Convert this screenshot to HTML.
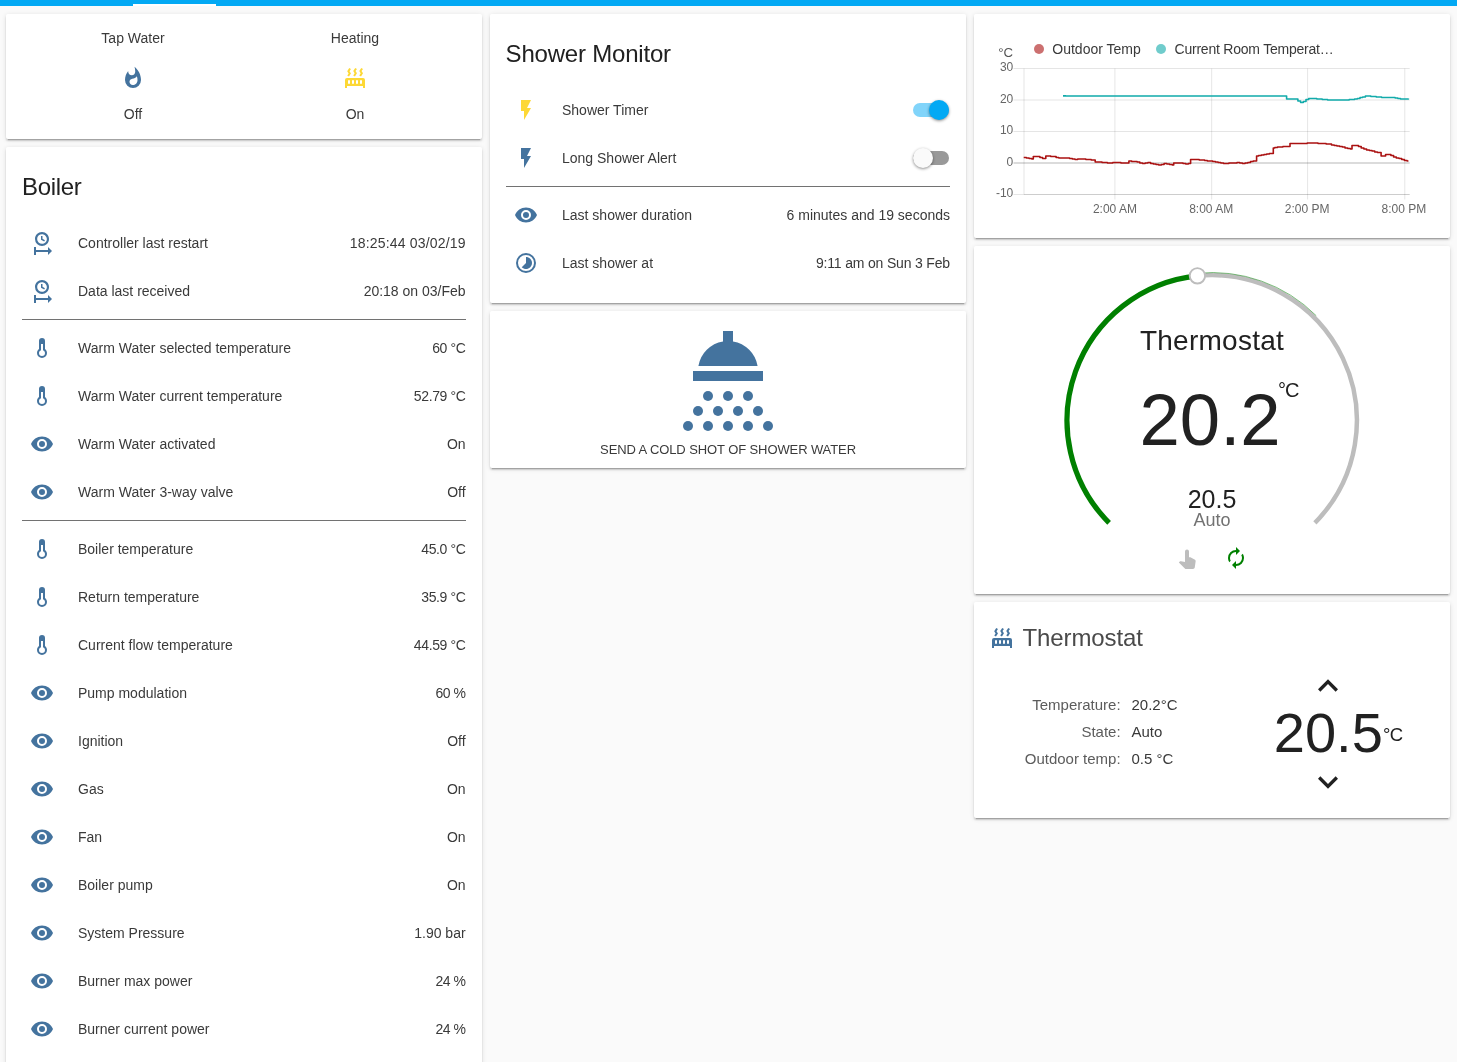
<!DOCTYPE html>
<html lang="en"><head><meta charset="utf-8"><title>Home Assistant</title>
<style>
html,body{margin:0;padding:0}
body{width:1457px;height:1062px;overflow:hidden;background:#fafafa;position:relative;font-family:"Liberation Sans",sans-serif;color:#212121;-webkit-font-smoothing:antialiased}
#bar{position:absolute;left:0;top:0;width:1457px;height:6px;background:#03a9f4}
#tab{position:absolute;left:133px;top:4px;width:83px;height:2px;background:#fff}
.card{position:absolute;background:#fff;border-radius:2px;box-shadow:0 2px 2px 0 rgba(0,0,0,.14),0 1px 5px 0 rgba(0,0,0,.12),0 3px 1px -2px rgba(0,0,0,.2)}
.ic{position:absolute;display:block}
.tx{position:absolute;white-space:nowrap}
.t14{font-size:14px;line-height:20px;color:#3a3a3a}
.t24{font-size:24px;line-height:40px}
.div{position:absolute;height:1px;background:#727272}
.abs{position:absolute}
#root{position:absolute;left:0;top:0;width:1457px;height:1062px;will-change:transform}
</style></head><body>
<div id="root">
<div id="bar"></div><div id="tab"></div>

<div class="card" style="left:6px;top:14px;width:476px;height:125px"></div>
<div class="tx t14" style="left:-167px;width:600px;text-align:center;top:28px;">Tap Water</div>
<div class="tx t14" style="left:55px;width:600px;text-align:center;top:28px;">Heating</div>
<svg class="ic" style="left:121px;top:66px;width:24px;height:24px" viewBox="0 0 24 24"><path fill="#44739e" d="M11.71,19C9.93,19 8.5,17.59 8.5,15.86C8.5,14.24 9.53,13.1 11.3,12.74C13.07,12.38 14.9,11.53 15.92,10.16C16.31,11.45 16.5,12.81 16.5,14.2C16.5,16.84 14.36,19 11.71,19M13.5,0.67C13.5,0.67 14.24,3.32 14.24,5.47C14.24,7.53 12.89,9.2 10.83,9.2C8.76,9.2 7.2,7.53 7.2,5.47L7.23,5.1C5.21,7.5 4,10.61 4,14A8,8 0 0,0 12,22A8,8 0 0,0 20,14C20,8.6 17.41,3.8 13.5,0.67Z"/></svg>
<svg class="ic" style="left:343px;top:66px;width:24px;height:24px" viewBox="0 0 24 24"><path fill="#fdd835" d="M7.95,3L6.53,5.19L7.95,7.4H7.94L5.95,10.5L4.22,9.6L5.64,7.39L4.22,5.19L6.22,2.09L7.95,3M13.95,2.89L12.53,5.1L13.95,7.3L13.94,7.31L11.95,10.4L10.22,9.5L11.64,7.3L10.22,5.1L12.22,2L13.95,2.89M20,2.89L18.56,5.1L20,7.3V7.31L18,10.4L16.25,9.5L17.67,7.3L16.25,5.1L18.25,2L20,2.89M2,22V14A2,2 0 0,1 4,12H20A2,2 0 0,1 22,14V22H20V20H4V22H2M6,14A1,1 0 0,0 5,15V17A1,1 0 0,0 6,18A1,1 0 0,0 7,17V15A1,1 0 0,0 6,14M10,14A1,1 0 0,0 9,15V17A1,1 0 0,0 10,18A1,1 0 0,0 11,17V15A1,1 0 0,0 10,14M14,14A1,1 0 0,0 13,15V17A1,1 0 0,0 14,18A1,1 0 0,0 15,17V15A1,1 0 0,0 14,14M18,14A1,1 0 0,0 17,15V17A1,1 0 0,0 18,18A1,1 0 0,0 19,17V15A1,1 0 0,0 18,14Z"/></svg>
<div class="tx t14" style="left:-167px;width:600px;text-align:center;top:104px;">Off</div>
<div class="tx t14" style="left:55px;width:600px;text-align:center;top:104px;">On</div>
<div class="card" style="left:6px;top:147px;width:476px;height:940px"></div>
<div class="tx t24" style="left:22px;top:167px;letter-spacing:-0.3px">Boiler</div>
<svg class="ic" style="left:30px;top:231px;width:24px;height:24px" viewBox="0 0 24 24"><path fill="#44739e" d="M12,1C8.14,1 5,4.14 5,8A7,7 0 0,0 12,15C15.86,15 19,11.87 19,8C19,4.14 15.86,1 12,1M12,3.15C14.67,3.15 16.85,5.32 16.85,8C16.85,10.68 14.67,12.85 12,12.85A4.85,4.85 0 0,1 7.15,8A4.85,4.85 0 0,1 12,3.15M11,5V8.69L14.19,10.53L14.94,9.23L12.5,7.82V5M4,16V24H6V21H18V24L22,20L18,16V19H6V16"/></svg>
<div class="tx t14" style="left:78px;top:233px;">Controller last restart</div>
<div class="tx t14" style="right:991.4px;top:233px;letter-spacing:0.17px">18:25:44 03/02/19</div>
<svg class="ic" style="left:30px;top:279px;width:24px;height:24px" viewBox="0 0 24 24"><path fill="#44739e" d="M12,1C8.14,1 5,4.14 5,8A7,7 0 0,0 12,15C15.86,15 19,11.87 19,8C19,4.14 15.86,1 12,1M12,3.15C14.67,3.15 16.85,5.32 16.85,8C16.85,10.68 14.67,12.85 12,12.85A4.85,4.85 0 0,1 7.15,8A4.85,4.85 0 0,1 12,3.15M11,5V8.69L14.19,10.53L14.94,9.23L12.5,7.82V5M4,16V24H6V21H18V24L22,20L18,16V19H6V16"/></svg>
<div class="tx t14" style="left:78px;top:281px;">Data last received</div>
<div class="tx t14" style="right:991.4px;top:281px;">20:18 on 03/Feb</div>
<svg class="ic" style="left:30px;top:336px;width:24px;height:24px" viewBox="0 0 24 24"><path fill="#44739e" d="M17,17A5,5 0 0,1 12,22A5,5 0 0,1 7,17C7,15.36 7.79,13.91 9,13V5A3,3 0 0,1 12,2A3,3 0 0,1 15,5V13C16.21,13.91 17,15.36 17,17M11,8V14.17C9.83,14.58 9,15.69 9,17A3,3 0 0,0 12,20A3,3 0 0,0 15,17C15,15.69 14.17,14.58 13,14.17V8H11Z"/></svg>
<div class="tx t14" style="left:78px;top:338px;">Warm Water selected temperature</div>
<div class="tx t14" style="right:991.4px;top:338px;letter-spacing:-0.35px">60 °C</div>
<svg class="ic" style="left:30px;top:384px;width:24px;height:24px" viewBox="0 0 24 24"><path fill="#44739e" d="M17,17A5,5 0 0,1 12,22A5,5 0 0,1 7,17C7,15.36 7.79,13.91 9,13V5A3,3 0 0,1 12,2A3,3 0 0,1 15,5V13C16.21,13.91 17,15.36 17,17M11,8V14.17C9.83,14.58 9,15.69 9,17A3,3 0 0,0 12,20A3,3 0 0,0 15,17C15,15.69 14.17,14.58 13,14.17V8H11Z"/></svg>
<div class="tx t14" style="left:78px;top:386px;">Warm Water current temperature</div>
<div class="tx t14" style="right:991.4px;top:386px;letter-spacing:-0.35px">52.79 °C</div>
<svg class="ic" style="left:30px;top:432px;width:24px;height:24px" viewBox="0 0 24 24"><path fill="#44739e" d="M12,9A3,3 0 0,0 9,12A3,3 0 0,0 12,15A3,3 0 0,0 15,12A3,3 0 0,0 12,9M12,17A5,5 0 0,1 7,12A5,5 0 0,1 12,7A5,5 0 0,1 17,12A5,5 0 0,1 12,17M12,4.5C7,4.5 2.73,7.61 1,12C2.73,16.39 7,19.5 12,19.5C17,19.5 21.27,16.39 23,12C21.27,7.61 17,4.5 12,4.5Z"/></svg>
<div class="tx t14" style="left:78px;top:434px;">Warm Water activated</div>
<div class="tx t14" style="right:991.4px;top:434px;">On</div>
<svg class="ic" style="left:30px;top:480px;width:24px;height:24px" viewBox="0 0 24 24"><path fill="#44739e" d="M12,9A3,3 0 0,0 9,12A3,3 0 0,0 12,15A3,3 0 0,0 15,12A3,3 0 0,0 12,9M12,17A5,5 0 0,1 7,12A5,5 0 0,1 12,7A5,5 0 0,1 17,12A5,5 0 0,1 12,17M12,4.5C7,4.5 2.73,7.61 1,12C2.73,16.39 7,19.5 12,19.5C17,19.5 21.27,16.39 23,12C21.27,7.61 17,4.5 12,4.5Z"/></svg>
<div class="tx t14" style="left:78px;top:482px;">Warm Water 3-way valve</div>
<div class="tx t14" style="right:991.4px;top:482px;">Off</div>
<svg class="ic" style="left:30px;top:537px;width:24px;height:24px" viewBox="0 0 24 24"><path fill="#44739e" d="M17,17A5,5 0 0,1 12,22A5,5 0 0,1 7,17C7,15.36 7.79,13.91 9,13V5A3,3 0 0,1 12,2A3,3 0 0,1 15,5V13C16.21,13.91 17,15.36 17,17M11,8V14.17C9.83,14.58 9,15.69 9,17A3,3 0 0,0 12,20A3,3 0 0,0 15,17C15,15.69 14.17,14.58 13,14.17V8H11Z"/></svg>
<div class="tx t14" style="left:78px;top:539px;">Boiler temperature</div>
<div class="tx t14" style="right:991.4px;top:539px;letter-spacing:-0.35px">45.0 °C</div>
<svg class="ic" style="left:30px;top:585px;width:24px;height:24px" viewBox="0 0 24 24"><path fill="#44739e" d="M17,17A5,5 0 0,1 12,22A5,5 0 0,1 7,17C7,15.36 7.79,13.91 9,13V5A3,3 0 0,1 12,2A3,3 0 0,1 15,5V13C16.21,13.91 17,15.36 17,17M11,8V14.17C9.83,14.58 9,15.69 9,17A3,3 0 0,0 12,20A3,3 0 0,0 15,17C15,15.69 14.17,14.58 13,14.17V8H11Z"/></svg>
<div class="tx t14" style="left:78px;top:587px;">Return temperature</div>
<div class="tx t14" style="right:991.4px;top:587px;letter-spacing:-0.35px">35.9 °C</div>
<svg class="ic" style="left:30px;top:633px;width:24px;height:24px" viewBox="0 0 24 24"><path fill="#44739e" d="M17,17A5,5 0 0,1 12,22A5,5 0 0,1 7,17C7,15.36 7.79,13.91 9,13V5A3,3 0 0,1 12,2A3,3 0 0,1 15,5V13C16.21,13.91 17,15.36 17,17M11,8V14.17C9.83,14.58 9,15.69 9,17A3,3 0 0,0 12,20A3,3 0 0,0 15,17C15,15.69 14.17,14.58 13,14.17V8H11Z"/></svg>
<div class="tx t14" style="left:78px;top:635px;">Current flow temperature</div>
<div class="tx t14" style="right:991.4px;top:635px;letter-spacing:-0.35px">44.59 °C</div>
<svg class="ic" style="left:30px;top:681px;width:24px;height:24px" viewBox="0 0 24 24"><path fill="#44739e" d="M12,9A3,3 0 0,0 9,12A3,3 0 0,0 12,15A3,3 0 0,0 15,12A3,3 0 0,0 12,9M12,17A5,5 0 0,1 7,12A5,5 0 0,1 12,7A5,5 0 0,1 17,12A5,5 0 0,1 12,17M12,4.5C7,4.5 2.73,7.61 1,12C2.73,16.39 7,19.5 12,19.5C17,19.5 21.27,16.39 23,12C21.27,7.61 17,4.5 12,4.5Z"/></svg>
<div class="tx t14" style="left:78px;top:683px;">Pump modulation</div>
<div class="tx t14" style="right:991.4px;top:683px;letter-spacing:-0.45px">60 %</div>
<svg class="ic" style="left:30px;top:729px;width:24px;height:24px" viewBox="0 0 24 24"><path fill="#44739e" d="M12,9A3,3 0 0,0 9,12A3,3 0 0,0 12,15A3,3 0 0,0 15,12A3,3 0 0,0 12,9M12,17A5,5 0 0,1 7,12A5,5 0 0,1 12,7A5,5 0 0,1 17,12A5,5 0 0,1 12,17M12,4.5C7,4.5 2.73,7.61 1,12C2.73,16.39 7,19.5 12,19.5C17,19.5 21.27,16.39 23,12C21.27,7.61 17,4.5 12,4.5Z"/></svg>
<div class="tx t14" style="left:78px;top:731px;">Ignition</div>
<div class="tx t14" style="right:991.4px;top:731px;">Off</div>
<svg class="ic" style="left:30px;top:777px;width:24px;height:24px" viewBox="0 0 24 24"><path fill="#44739e" d="M12,9A3,3 0 0,0 9,12A3,3 0 0,0 12,15A3,3 0 0,0 15,12A3,3 0 0,0 12,9M12,17A5,5 0 0,1 7,12A5,5 0 0,1 12,7A5,5 0 0,1 17,12A5,5 0 0,1 12,17M12,4.5C7,4.5 2.73,7.61 1,12C2.73,16.39 7,19.5 12,19.5C17,19.5 21.27,16.39 23,12C21.27,7.61 17,4.5 12,4.5Z"/></svg>
<div class="tx t14" style="left:78px;top:779px;">Gas</div>
<div class="tx t14" style="right:991.4px;top:779px;">On</div>
<svg class="ic" style="left:30px;top:825px;width:24px;height:24px" viewBox="0 0 24 24"><path fill="#44739e" d="M12,9A3,3 0 0,0 9,12A3,3 0 0,0 12,15A3,3 0 0,0 15,12A3,3 0 0,0 12,9M12,17A5,5 0 0,1 7,12A5,5 0 0,1 12,7A5,5 0 0,1 17,12A5,5 0 0,1 12,17M12,4.5C7,4.5 2.73,7.61 1,12C2.73,16.39 7,19.5 12,19.5C17,19.5 21.27,16.39 23,12C21.27,7.61 17,4.5 12,4.5Z"/></svg>
<div class="tx t14" style="left:78px;top:827px;">Fan</div>
<div class="tx t14" style="right:991.4px;top:827px;">On</div>
<svg class="ic" style="left:30px;top:873px;width:24px;height:24px" viewBox="0 0 24 24"><path fill="#44739e" d="M12,9A3,3 0 0,0 9,12A3,3 0 0,0 12,15A3,3 0 0,0 15,12A3,3 0 0,0 12,9M12,17A5,5 0 0,1 7,12A5,5 0 0,1 12,7A5,5 0 0,1 17,12A5,5 0 0,1 12,17M12,4.5C7,4.5 2.73,7.61 1,12C2.73,16.39 7,19.5 12,19.5C17,19.5 21.27,16.39 23,12C21.27,7.61 17,4.5 12,4.5Z"/></svg>
<div class="tx t14" style="left:78px;top:875px;">Boiler pump</div>
<div class="tx t14" style="right:991.4px;top:875px;">On</div>
<svg class="ic" style="left:30px;top:921px;width:24px;height:24px" viewBox="0 0 24 24"><path fill="#44739e" d="M12,9A3,3 0 0,0 9,12A3,3 0 0,0 12,15A3,3 0 0,0 15,12A3,3 0 0,0 12,9M12,17A5,5 0 0,1 7,12A5,5 0 0,1 12,7A5,5 0 0,1 17,12A5,5 0 0,1 12,17M12,4.5C7,4.5 2.73,7.61 1,12C2.73,16.39 7,19.5 12,19.5C17,19.5 21.27,16.39 23,12C21.27,7.61 17,4.5 12,4.5Z"/></svg>
<div class="tx t14" style="left:78px;top:923px;">System Pressure</div>
<div class="tx t14" style="right:991.4px;top:923px;">1.90 bar</div>
<svg class="ic" style="left:30px;top:969px;width:24px;height:24px" viewBox="0 0 24 24"><path fill="#44739e" d="M12,9A3,3 0 0,0 9,12A3,3 0 0,0 12,15A3,3 0 0,0 15,12A3,3 0 0,0 12,9M12,17A5,5 0 0,1 7,12A5,5 0 0,1 12,7A5,5 0 0,1 17,12A5,5 0 0,1 12,17M12,4.5C7,4.5 2.73,7.61 1,12C2.73,16.39 7,19.5 12,19.5C17,19.5 21.27,16.39 23,12C21.27,7.61 17,4.5 12,4.5Z"/></svg>
<div class="tx t14" style="left:78px;top:971px;">Burner max power</div>
<div class="tx t14" style="right:991.4px;top:971px;letter-spacing:-0.45px">24 %</div>
<svg class="ic" style="left:30px;top:1017px;width:24px;height:24px" viewBox="0 0 24 24"><path fill="#44739e" d="M12,9A3,3 0 0,0 9,12A3,3 0 0,0 12,15A3,3 0 0,0 15,12A3,3 0 0,0 12,9M12,17A5,5 0 0,1 7,12A5,5 0 0,1 12,7A5,5 0 0,1 17,12A5,5 0 0,1 12,17M12,4.5C7,4.5 2.73,7.61 1,12C2.73,16.39 7,19.5 12,19.5C17,19.5 21.27,16.39 23,12C21.27,7.61 17,4.5 12,4.5Z"/></svg>
<div class="tx t14" style="left:78px;top:1019px;">Burner current power</div>
<div class="tx t14" style="right:991.4px;top:1019px;letter-spacing:-0.45px">24 %</div>
<div class="div" style="left:22px;top:319px;width:444px"></div>
<div class="div" style="left:22px;top:520px;width:444px"></div>
<div class="card" style="left:490px;top:14px;width:476px;height:289px"></div>
<div class="tx t24" style="left:505.6px;top:34px;letter-spacing:-0.2px">Shower Monitor</div>
<svg class="ic" style="left:514px;top:98px;width:24px;height:24px" viewBox="0 0 24 24"><path fill="#fdd835" d="M7,2V13H10V22L17,10H13L17,2H7Z"/></svg>
<div class="tx t14" style="left:562px;top:100px;">Shower Timer</div>
<svg class="ic" style="left:514px;top:146px;width:24px;height:24px" viewBox="0 0 24 24"><path fill="#44739e" d="M7,2V13H10V22L17,10H13L17,2H7Z"/></svg>
<div class="tx t14" style="left:562px;top:148px;">Long Shower Alert</div>
<div class="abs" style="left:913px;top:103px;width:36px;height:14px;border-radius:7px;background:#81d4fa"></div>
<div class="abs" style="left:929px;top:100px;width:20px;height:20px;border-radius:50%;background:#03a9f4;box-shadow:0 1px 3px 0 rgba(0,0,0,.45)"></div>
<div class="abs" style="left:913px;top:151px;width:36px;height:14px;border-radius:7px;background:#999"></div>
<div class="abs" style="left:913px;top:148px;width:20px;height:20px;border-radius:50%;background:#fafafa;box-shadow:0 1px 3px 0 rgba(0,0,0,.45)"></div>
<div class="div" style="left:506px;top:186px;width:444px"></div>
<svg class="ic" style="left:514px;top:203px;width:24px;height:24px" viewBox="0 0 24 24"><path fill="#44739e" d="M12,9A3,3 0 0,0 9,12A3,3 0 0,0 12,15A3,3 0 0,0 15,12A3,3 0 0,0 12,9M12,17A5,5 0 0,1 7,12A5,5 0 0,1 12,7A5,5 0 0,1 17,12A5,5 0 0,1 12,17M12,4.5C7,4.5 2.73,7.61 1,12C2.73,16.39 7,19.5 12,19.5C17,19.5 21.27,16.39 23,12C21.27,7.61 17,4.5 12,4.5Z"/></svg>
<div class="tx t14" style="left:562px;top:205px;">Last shower duration</div>
<div class="tx t14" style="right:507px;top:205px;">6 minutes and 19 seconds</div>
<svg class="ic" style="left:514px;top:251px;width:24px;height:24px" viewBox="0 0 24 24"><path fill="#44739e" d="M16.24,7.76C15.07,6.58 13.53,6 12,6V12L7.76,16.24C10.1,18.58 13.9,18.58 16.24,16.24C18.59,13.9 18.59,10.1 16.24,7.76M12,2A10,10 0 0,0 2,12A10,10 0 0,0 12,22A10,10 0 0,0 22,12A10,10 0 0,0 12,2M12,20A8,8 0 0,1 4,12A8,8 0 0,1 12,4A8,8 0 0,1 20,12A8,8 0 0,1 12,20Z"/></svg>
<div class="tx t14" style="left:562px;top:253px;">Last shower at</div>
<div class="tx t14" style="right:507px;top:253px;letter-spacing:-0.17px">9:11 am on Sun 3 Feb</div>
<div class="card" style="left:490px;top:311px;width:476px;height:157px"></div>
<svg class="ic" style="left:668px;top:320.8px;width:120px;height:120px" viewBox="0 0 24 24"><g fill="#44739e">
<path d="M11,2H13V4.1A6,6 0 0,1 17.92,9H6.08A6,6 0 0,1 11,4.1Z"/><rect x="5" y="10" width="14" height="2"/>
<circle cx="8" cy="15" r="1"/><circle cx="12" cy="15" r="1"/><circle cx="16" cy="15" r="1"/>
<circle cx="6" cy="18" r="1"/><circle cx="10" cy="18" r="1"/><circle cx="14" cy="18" r="1"/><circle cx="18" cy="18" r="1"/>
<circle cx="4" cy="21" r="1"/><circle cx="8" cy="21" r="1"/><circle cx="12" cy="21" r="1"/><circle cx="16" cy="21" r="1"/><circle cx="20" cy="21" r="1"/>
</g></svg>
<div class="tx t14" style="left:428px;width:600px;text-align:center;top:440px;font-size:13px;letter-spacing:-0.1px">SEND A COLD SHOT OF SHOWER WATER</div>
<div class="card" style="left:974px;top:14px;width:476px;height:224px"></div>
<svg class="ic" style="left:974px;top:14px;width:476px;height:224px" viewBox="974 14 476 224">
<g stroke="#000" stroke-opacity="0.1" stroke-width="1" fill="none">
<path d="M1013.5,68.5H1409.7"/>
<path d="M1013.5,100H1409.7"/>
<path d="M1013.5,131.5H1409.7"/>
<path d="M1013.5,194.5H1409.7"/>
<path d="M1024,68.5V194.5"/>
<path d="M1114.9,68.5V199.5"/>
<path d="M1211.7,68.5V199.5"/>
<path d="M1307.6,68.5V199.5"/>
<path d="M1404.8,68.5V199.5"/>
<path d="M1024,194.5H1409.7"/>
</g>
<path d="M1013.5,163H1409.7" stroke="#000" stroke-opacity="0.14" stroke-width="1.8" fill="none"/>
<path d="M1063.0,95.9H1065.7V96.0H1068.4V96.0H1071.1V96.0H1073.8V96.0H1076.5V96.0H1079.2V96.0H1081.9V96.0H1084.6V96.0H1087.3V96.0H1090.0V96.0H1092.7V96.0H1095.4V96.0H1098.1V96.0H1100.8V96.0H1103.5V96.0H1106.2V96.0H1108.9V96.0H1111.6V96.0H1114.3V96.0H1117.0V96.0H1119.7V96.0H1122.4V96.0H1125.1V96.0H1127.8V96.0H1130.5V96.0H1133.2V96.0H1135.9V96.0H1138.6V96.0H1141.3V96.0H1144.0V96.0H1146.7V96.0H1149.4V96.0H1152.1V96.0H1154.8V96.0H1157.5V96.0H1160.2V96.0H1162.9V96.0H1165.6V96.0H1168.3V96.0H1171.0V96.0H1173.7V96.0H1176.4V96.0H1179.1V96.0H1181.8V96.0H1184.5V96.0H1187.2V96.0H1189.9V96.0H1192.6V96.0H1195.3V96.0H1198.0V96.0H1200.7V96.0H1203.4V96.0H1206.1V96.0H1208.8V96.0H1211.5V96.0H1214.2V96.0H1216.9V96.0H1219.6V96.0H1222.3V96.0H1225.0V96.0H1227.7V96.0H1230.4V96.0H1233.1V96.0H1235.8V96.0H1238.5V96.0H1241.2V96.0H1243.9V96.0H1246.6V96.0H1249.3V96.0H1252.0V96.0H1254.7V96.0H1257.4V96.0H1260.1V96.0H1262.8V96.0H1265.5V96.0H1268.2V96.0H1270.9V96.0H1273.6V96.0H1276.3V96.0H1279.0V96.0H1281.7V96.0H1284.4V96.0H1286.6V99.0H1289.8V99.0H1292.5V99.0H1295.2V99.0H1297.9V101.0H1300.6V102.5H1303.3V101.5H1306.0V99.5H1308.7V98.5H1311.4V98.5H1314.1V98.5H1316.8V99.0H1319.5V99.0H1322.2V99.5H1324.9V99.5H1327.6V100.0H1330.3V100.0H1333.0V100.0H1335.7V100.0H1338.4V100.0H1341.1V100.0H1343.8V100.0H1346.5V100.0H1349.2V99.5H1351.9V99.5H1354.6V99.0H1357.3V98.5H1360.0V97.5H1362.7V97.0H1365.4V96.0H1368.1V96.0H1370.8V96.5H1373.5V96.5H1376.2V97.0H1378.9V97.0H1381.6V97.5H1384.3V97.5H1387.0V97.5H1389.7V97.5H1392.4V97.5H1395.1V98.0H1397.8V98.5H1400.5V99.0H1403.2V99.0H1405.9V99.0H1408.4V98.5" stroke="#11aaaa" stroke-width="1.6" fill="none" stroke-linejoin="round"/>
<path d="M1023.7,157.5H1026.4V158.0H1029.1V158.5H1031.8V159.0H1033.3V156.5H1037.2V156.5H1039.9V157.5H1042.6V158.5H1045.8V156.0H1048.0V156.0H1050.7V156.5H1053.4V156.5H1056.1V157.5H1058.8V158.0H1061.5V158.0H1064.2V158.0H1066.9V158.0H1069.6V158.5H1072.3V159.0H1075.0V159.5H1077.7V159.0H1080.4V159.0H1083.1V159.0H1085.8V159.5H1088.5V159.5H1091.2V160.0H1095.2V162.0H1096.6V162.0H1099.3V162.0H1102.0V162.5H1104.7V162.5H1107.4V163.0H1110.1V163.0H1112.8V162.5H1115.5V162.5H1118.2V162.5H1120.9V163.0H1123.6V163.0H1126.3V163.0H1128.9V161.0H1131.7V161.5H1134.4V161.5H1137.1V162.0H1139.8V163.0H1142.5V163.5H1145.2V163.0H1147.9V162.5H1150.6V163.5H1153.3V164.0H1156.0V164.5H1158.7V165.0H1161.4V164.5H1164.1V163.5H1166.8V164.0H1169.5V164.5H1172.2V165.0H1173.7V163.0H1177.6V163.0H1180.3V163.0H1183.0V163.5H1185.7V164.0H1188.4V163.5H1190.6V159.5H1193.8V159.5H1196.5V159.5H1199.2V160.0H1201.9V160.0H1204.6V160.5H1207.3V161.0H1210.0V161.0H1212.7V161.5H1215.4V162.0H1218.1V162.5H1220.8V163.0H1223.5V163.5H1226.2V163.5H1228.9V163.0H1231.6V163.0H1234.3V163.0H1237.0V162.5H1239.7V163.0H1242.4V163.5H1245.1V163.0H1247.8V162.5H1250.5V161.5H1253.2V161.0H1256.6V156.0H1258.6V155.5H1261.3V155.0H1264.0V154.5H1266.7V154.0H1269.4V153.5H1273.3V148.0H1274.8V147.5H1277.5V147.0H1280.2V147.0H1282.9V146.5H1285.6V146.5H1288.3V146.5H1290.0V143.5H1293.7V143.5H1296.4V143.5H1299.1V143.5H1301.8V143.5H1304.5V143.5H1307.2V143.0H1309.9V143.0H1312.6V143.0H1315.3V143.0H1318.0V143.5H1320.7V143.5H1323.4V143.5H1326.1V144.0H1328.8V144.0H1331.5V145.0H1334.2V145.5H1336.9V146.0H1339.6V146.5H1342.3V147.0H1345.0V148.0H1347.7V148.5H1350.4V149.0H1352.0V145.5H1355.8V145.5H1358.5V146.5H1361.2V148.0H1363.9V149.0H1366.6V150.0H1369.3V150.5H1372.0V151.0H1374.7V152.0H1377.4V152.5H1381.1V156.0H1382.8V156.0H1385.6V154.5H1388.2V154.5H1390.9V155.5H1393.6V157.0H1396.3V158.0H1399.0V158.5H1401.7V159.5H1404.4V160.5H1407.1V161.0H1407.9V161.5" stroke="#aa1111" stroke-width="1.6" fill="none" stroke-linejoin="round"/>
<circle cx="1039" cy="49" r="5" fill="#cc7070"/><circle cx="1161" cy="49" r="5" fill="#70cccc"/>
<g font-family="Liberation Sans, sans-serif" font-size="12" fill="#666">
<text x="998.3" y="56.5" font-size="13.2" fill="#555">°C</text>
<text x="1013.3" y="71.1" text-anchor="end">30</text>
<text x="1013.3" y="102.6" text-anchor="end">20</text>
<text x="1013.3" y="134.1" text-anchor="end">10</text>
<text x="1013.3" y="165.6" text-anchor="end">0</text>
<text x="1013.3" y="197.1" text-anchor="end">-10</text>
<text x="1114.9" y="213" text-anchor="middle">2:00 AM</text>
<text x="1211.2" y="213" text-anchor="middle">8:00 AM</text>
<text x="1307.2" y="213" text-anchor="middle">2:00 PM</text>
<text x="1403.9" y="213" text-anchor="middle">8:00 PM</text>
</g></svg>
<div class="tx t14" style="left:1052.3px;top:39px">Outdoor Temp</div>
<div class="tx t14" style="left:1174.5px;top:39px;letter-spacing:-0.22px">Current Room Temperat…</div>
<div class="card" style="left:974px;top:246px;width:476px;height:348px"></div>
<svg class="ic" style="left:974px;top:246px;width:476px;height:348px" viewBox="974 246 476 348">
<path d="M1197.40,275.80A145.5,145.5 0 0,1 1314.88,522.88" stroke="#bdbdbd" stroke-width="4.5" fill="none"/>
<path d="M1109.12,522.88A145.5,145.5 0 0,1 1197.40,275.80" stroke="#008000" stroke-width="5.2" fill="none"/>
<path d="M1197.10,273.30A147.45,147.45 0 0,1 1316.26,315.74" stroke="#008000" stroke-opacity="0.9" stroke-width="0.55" fill="none"/>
<circle cx="1197.4" cy="275.8" r="7.7" fill="#fff" stroke="#bdbdbd" stroke-width="1.9"/>
</svg>
<div class="tx" style="left:912px;width:600px;text-align:center;top:320.5px;font-size:28px;line-height:40px;letter-spacing:0.25px" id="th-title">Thermostat</div>
<div class="tx" style="left:1139.5px;top:380px;font-size:72.5px;line-height:80px" id="th-big">20.2</div>
<div class="tx" style="left:1278px;top:376px;font-size:20px;line-height:28px;letter-spacing:-1px" id="th-uom">°C</div>
<div class="tx" style="left:912px;width:600px;text-align:center;top:485.3px;font-size:25px;line-height:28px" id="th-set">20.5</div>
<div class="tx" style="left:912px;width:600px;text-align:center;top:509.3px;font-size:18px;line-height:22px;color:#727272" id="th-mode">Auto</div>
<svg class="ic" style="left:1176.2px;top:546.5px;width:24px;height:24px" viewBox="0 0 24 24"><path fill="#bdbdbd" d="M13.75,10.19L14.38,10.32L18.55,12.4C19.25,12.63 19.71,13.32 19.65,14.06V14.19L19.65,14.32L18.75,20.44C18.69,20.87 18.5,21.27 18.15,21.55C17.84,21.85 17.43,22 17,22H10.12C9.63,22 9.18,21.82 8.85,21.47L2.86,15.5L3.76,14.5C4,14.25 4.38,14.11 4.74,14.13H5L9,15V4.5A2,2 0 0,1 11,2.5A2,2 0 0,1 13,4.5V10.19H13.75Z"/></svg>
<svg class="ic" style="left:1223.8px;top:546.3px;width:24px;height:24px" viewBox="0 0 24 24"><path fill="#008000" d="M12,6V9L16,5L12,1V4A8,8 0 0,0 4,12C4,13.57 4.46,15.03 5.24,16.26L6.7,14.8C6.25,13.97 6,13 6,12A6,6 0 0,1 12,6M18.76,7.74L17.3,9.2C17.74,10.04 18,11 18,12A6,6 0 0,1 12,18V15L8,19L12,23V20A8,8 0 0,0 20,12C20,10.43 19.54,8.97 18.76,7.74Z"/></svg>
<div class="card" style="left:974px;top:602px;width:476px;height:216px"></div>
<svg class="ic" style="left:990px;top:626px;width:24px;height:24px" viewBox="0 0 24 24"><path fill="#44739e" d="M7.95,3L6.53,5.19L7.95,7.4H7.94L5.95,10.5L4.22,9.6L5.64,7.39L4.22,5.19L6.22,2.09L7.95,3M13.95,2.89L12.53,5.1L13.95,7.3L13.94,7.31L11.95,10.4L10.22,9.5L11.64,7.3L10.22,5.1L12.22,2L13.95,2.89M20,2.89L18.56,5.1L20,7.3V7.31L18,10.4L16.25,9.5L17.67,7.3L16.25,5.1L18.25,2L20,2.89M2,22V14A2,2 0 0,1 4,12H20A2,2 0 0,1 22,14V22H20V20H4V22H2M6,14A1,1 0 0,0 5,15V17A1,1 0 0,0 6,18A1,1 0 0,0 7,17V15A1,1 0 0,0 6,14M10,14A1,1 0 0,0 9,15V17A1,1 0 0,0 10,18A1,1 0 0,0 11,17V15A1,1 0 0,0 10,14M14,14A1,1 0 0,0 13,15V17A1,1 0 0,0 14,18A1,1 0 0,0 15,17V15A1,1 0 0,0 14,14M18,14A1,1 0 0,0 17,15V17A1,1 0 0,0 18,18A1,1 0 0,0 19,17V15A1,1 0 0,0 18,14Z"/></svg>
<div class="tx" style="left:1022.5px;top:618px;font-size:24px;line-height:40px;color:#4a4a4a;letter-spacing:-0.1px" id="st-title">Thermostat</div>
<div class="tx" style="right:336.4000000000001px;top:694.0px;font-size:15px;line-height:22px;color:#5c5c5c" id="st-l0">Temperature:</div>
<div class="tx" style="left:1131.5px;top:694.0px;font-size:15px;line-height:22px;color:#3a3a3a" id="st-v0">20.2°C</div>
<div class="tx" style="right:336.4000000000001px;top:720.6px;font-size:15px;line-height:22px;color:#5c5c5c" id="st-l1">State:</div>
<div class="tx" style="left:1131.5px;top:720.6px;font-size:15px;line-height:22px;color:#3a3a3a" id="st-v1">Auto</div>
<div class="tx" style="right:336.4000000000001px;top:747.8px;font-size:15px;line-height:22px;color:#5c5c5c" id="st-l2">Outdoor temp:</div>
<div class="tx" style="left:1131.5px;top:747.8px;font-size:15px;line-height:22px;color:#3a3a3a" id="st-v2">0.5 °C</div>
<svg class="ic" style="left:1308px;top:665.9px;width:40px;height:40px" viewBox="0 0 24 24"><path fill="#212121" d="M7.41,15.41L12,10.83L16.59,15.41L18,14L12,8L6,14L7.41,15.41Z"/></svg>
<svg class="ic" style="left:1308px;top:762px;width:40px;height:40px" viewBox="0 0 24 24"><path fill="#212121" d="M7.41,8.58L12,13.17L16.59,8.58L18,10L12,16L6,10L7.41,8.58Z"/></svg>
<div class="tx" style="left:1273.8px;top:701px;font-size:56px;line-height:64px" id="st-big">20.5</div>
<div class="tx" style="left:1383px;top:721.5px;font-size:18.5px;line-height:26px;letter-spacing:-0.7px" id="st-uom">°C</div>
</div>
</body></html>
